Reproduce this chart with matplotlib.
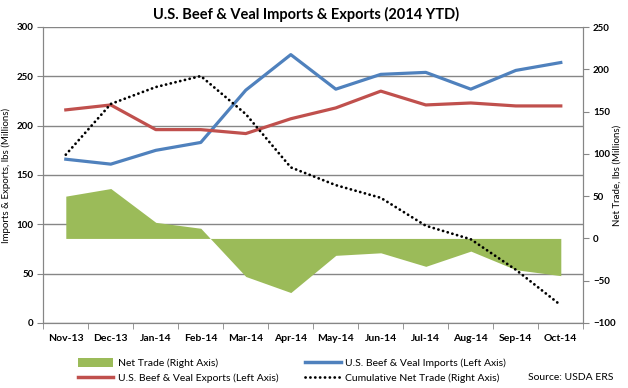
import numpy as np
import matplotlib
matplotlib.use("Agg")
import matplotlib.pyplot as plt
from matplotlib.patches import Patch
from matplotlib.lines import Line2D

plt.rcParams['font.family'] = ['Lato', 'DejaVu Sans']

# --------------------------------------------------
# Data (lbs, millions)
# --------------------------------------------------
months = ['Nov-13', 'Dec-13', 'Jan-14', 'Feb-14', 'Mar-14', 'Apr-14',
          'May-14', 'Jun-14', 'Jul-14', 'Aug-14', 'Sep-14', 'Oct-14']
imports = [166, 161, 175, 183, 236, 272, 237, 252, 254, 237, 256, 264]
exports = [216, 221, 196, 196, 192, 207, 218, 235, 221, 223, 220, 220]
net_trade = [50, 59, 19, 12, -45, -64, -20, -17, -33, -15, -37, -44]
cumulative = [99, 159, 179, 192, 147, 84, 63, 48, 15, -1, -37, -79]

blue = '#4F81BD'
red = '#C0504D'
green = '#9BBB59'
grey = '#868686'

x = np.arange(len(months))

fig = plt.figure(figsize=(6.28, 3.88), dpi=100)
ax = fig.add_axes([43.3 / 628, 1 - 323 / 388, 540 / 628, 296 / 388])
ax2 = ax.twinx()

# left axis: imports / exports
ax.set_ylim(0, 300)
ax.set_yticks(np.arange(0, 301, 50))
ax.yaxis.grid(True, color=grey, linewidth=1.0)
ax.set_axisbelow(True)
ax.plot(x, imports, color=blue, linewidth=2.3, zorder=3)
ax.plot(x, exports, color=red, linewidth=2.3, zorder=3)

# right axis: net trade area + cumulative
ax2.set_ylim(-100, 250)
ax2.set_yticks(np.arange(-100, 251, 50))
ax2.fill_between(x, 0, net_trade, color=green, linewidth=0)
ax2.plot(x, cumulative, color='black', linewidth=2.0,
         linestyle=(0, (0.05, 1.7)), dash_capstyle='round')

ax.set_xlim(-0.5, len(months) - 0.5)
ax.set_xticks(x)
ax.set_xticklabels(months)
ax.set_xticks(np.arange(-0.5, len(months), 1.0), minor=True)
ax.tick_params(axis='x', which='major', length=0, pad=8)
ax.tick_params(axis='x', which='minor', length=4, color=grey)

for a in (ax, ax2):
    a.spines['top'].set_visible(False)
    for side in ('left', 'right', 'bottom'):
        a.spines[side].set_color(grey)
    a.tick_params(axis='y', length=4, color=grey, labelsize=7, pad=3)
    for lab in a.get_yticklabels():
        lab.set_fontweight('bold')
ax.tick_params(axis='x', labelsize=7.5)
for lab in ax.get_xticklabels():
    lab.set_fontweight('bold')

ax.set_ylabel('Imports & Exports, lbs (Millions)', fontsize=7)
ax.yaxis.set_label_coords((11 - 43.3) / 540, 0.5)
ax2.set_ylabel('Net Trade, lbs (Millions)', fontsize=7)
ax2.yaxis.set_label_coords((613 - 43.3) / 540, 0.5)

fig.text(0.487, 1 - 14 / 388, 'U.S. Beef & Veal Imports & Exports (2014 YTD)',
         ha='center', va='center', fontsize=10.5, fontweight='bold')

handles = [
    Patch(facecolor=green, edgecolor='none'),
    Line2D([], [], color=red, linewidth=2.5),
    Line2D([], [], color=blue, linewidth=2.5),
    Line2D([], [], color='black', linewidth=2.0, linestyle=(0, (0.05, 1.7)),
           dash_capstyle='round'),
]
labels = ['Net Trade (Right Axis)', 'U.S. Beef & Veal Exports (Left Axis)',
          'U.S. Beef & Veal Imports (Left Axis)', 'Cumulative Net Trade (Right Axis)']
fig.legend(handles, labels, ncol=2, frameon=False, fontsize=7.5,
           loc='upper left', bbox_to_anchor=(78 / 628, 1 - 358 / 388),
           handlelength=3.4, handleheight=0.9, handletextpad=0.4,
           columnspacing=2.6, labelspacing=0.45, borderaxespad=0, borderpad=0)

fig.text(613 / 628, 1 - 378 / 388, 'Source: USDA ERS', ha='right', va='center',
         fontsize=7.5)

fig.savefig('out.png', dpi=100)
